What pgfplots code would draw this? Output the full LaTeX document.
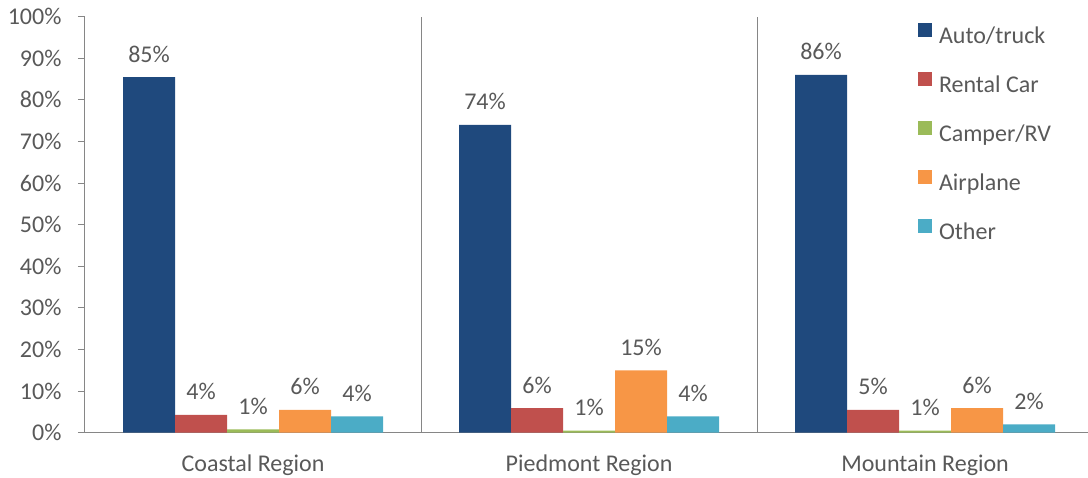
\documentclass[border=0pt]{standalone}
\usepackage{pgfplots}
\pgfplotsset{compat=1.18}
\usepackage{pgfplotstable}
\usepackage{fontspec}
\setmainfont{Carlito}
\definecolor{cauto}{HTML}{1F497D}
\definecolor{crent}{HTML}{C0504D}
\definecolor{ccamp}{HTML}{9BBB59}
\definecolor{cair}{HTML}{F79646}
\definecolor{coth}{HTML}{4BACC6}
\definecolor{txt}{HTML}{595959}
\definecolor{axc}{HTML}{868686}

\pgfplotstableread{
x y lab
0 85.5 85
1 74.0 74
2 86.0 86
}\tauto
\pgfplotstableread{
x y lab
0 4.3 4
1 5.9 6
2 5.5 5
}\trent
\pgfplotstableread{
x y lab
0 0.8 1
1 0.5 1
2 0.5 1
}\tcamp
\pgfplotstableread{
x y lab
0 5.5 6
1 15.0 15
2 5.9 6
}\tair
\pgfplotstableread{
x y lab
0 3.9 4
1 3.9 4
2 2.0 2
}\toth

\newcommand{\chartfont}{\fontsize{24bp}{28bp}\selectfont}

\begin{document}
\begin{tikzpicture}
\useasboundingbox (-85bp,-45.3bp) rectangle (1003bp,432.7bp);
\begin{axis}[
  at={(0,0)}, anchor=south west,
  scale only axis, width=1003bp, height=416bp,
  ymin=0, ymax=100, xmin=-0.5, xmax=2.485,
  /pgf/number format/assume math mode=true,
  ytick={0,10,...,100},
  yticklabel={\pgfmathprintnumber{\tick}\%},
  xtick={0,1,2},
  xticklabels={Coastal Region, Piedmont Region, Mountain Region},
  axis x line=bottom, axis y line=left,
  axis line style={-, draw=axc, line width=1bp},
  tick align=outside, major tick length=7bp,
  ytick style={draw=axc, line width=1bp},
  xtick style={draw=none},
  extra x ticks={-0.5,0.5,1.5},
  extra x tick labels={},
  extra x tick style={grid=major, major grid style={draw=axc, line width=1bp},
     tick style={draw=axc, line width=1bp}},
  tick label style={font=\chartfont, text=txt},
  yticklabel style={xshift=-13bp},
  xticklabel style={yshift=-12bp},
  ybar=0pt, bar width=52bp,
  nodes near coords={\pgfplotspointmeta\%},
  point meta=explicit symbolic,
  every node near coord/.append style={font=\chartfont, text=txt, anchor=base, inner sep=0pt, yshift=15bp},
  legend image code/.code={\fill[#1] (0bp,0bp) rectangle (14bp,14bp);},
  legend cell align=left,
  legend style={at={(0.8305,0.985)}, anchor=north west, draw=none, fill=none,
     inner sep=0pt, outer sep=0pt, row sep=28bp, font=\chartfont, text=txt,
     nodes={inner sep=0pt, text height=14bp, text depth=0pt},
     /tikz/every odd column/.style={column sep=7bp}},
  clip=false,
]
\addplot[fill=cauto, draw=none] table[x=x, y=y, meta=lab] {\tauto};
\addplot[fill=crent, draw=none] table[x=x, y=y, meta=lab] {\trent};
\addplot[fill=ccamp, draw=none] table[x=x, y=y, meta=lab] {\tcamp};
\addplot[fill=cair, draw=none] table[x=x, y=y, meta=lab] {\tair};
\addplot[fill=coth, draw=none] table[x=x, y=y, meta=lab] {\toth};
\legend{Auto/truck, Rental Car, Camper/RV, Airplane, Other}
\end{axis}
\end{tikzpicture}
\end{document}
